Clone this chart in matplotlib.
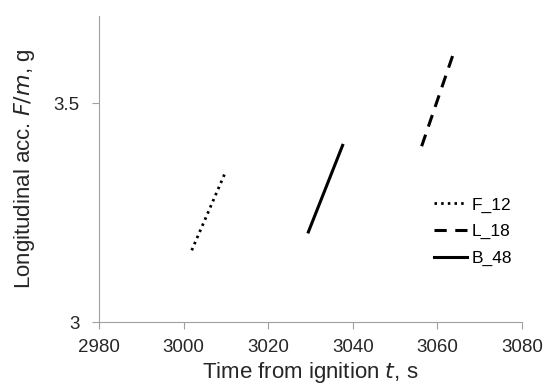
import matplotlib.pyplot as plt
from matplotlib import rc

rc('font', family='sans-serif')
plt.rcParams['font.sans-serif'] = ['Liberation Sans', 'DejaVu Sans']

# series
t_f12 = [3001.9, 3009.8]
a_f12 = [3.164, 3.341]
t_l18 = [3056.3, 3064.0]
a_l18 = [3.402, 3.619]
t_b48 = [3029.5, 3037.6]
a_b48 = [3.206, 3.404]

xticks = [2980, 3000, 3020, 3040, 3060, 3080]
yticks = [3, 3.5]

fig = plt.figure(figsize=(5.51, 3.88), dpi=100)
ax = fig.add_axes([0.18, 0.170, 0.767, 0.789])

ax.plot(t_f12, a_f12, color='black', lw=2.0, linestyle=(0, (0.9, 1.5)), label='F_12')
ax.plot(t_l18, a_l18, color='black', lw=2.2, linestyle=(0, (4, 2.8)), label='L_18')
ax.plot(t_b48, a_b48, color='black', lw=2.2, linestyle='-', label='B_48')

ax.set_xlim(2980, 3080)
ax.set_ylim(3, 3.7)
ax.set_xticks(xticks)
ax.set_yticks(yticks)
ax.set_yticklabels(['3', '3.5'])

for s in ['top', 'right']:
    ax.spines[s].set_visible(False)
for s in ['left', 'bottom']:
    ax.spines[s].set_color('#a0a0a0')
ax.tick_params(colors='#a0a0a0', labelcolor='#262626', labelsize=13.5, length=5, direction='out')
ax.tick_params(axis='x', pad=7)
ax.tick_params(axis='y', pad=9)

ax.set_xlabel(r'Time from ignition $\it{t}$, s', fontsize=16, color='#262626', labelpad=3)
ax.set_ylabel(r'Longitudinal acc. $\it{F/m}$, g', fontsize=16, color='#262626', labelpad=12)

leg = ax.legend(loc='upper left', bbox_to_anchor=(0.775, 0.43), frameon=False, fontsize=12.5,
                handlelength=1.9, handletextpad=0.3, labelspacing=0.65, borderaxespad=0)

fig.savefig('out.png', dpi=100)
plt.close()
